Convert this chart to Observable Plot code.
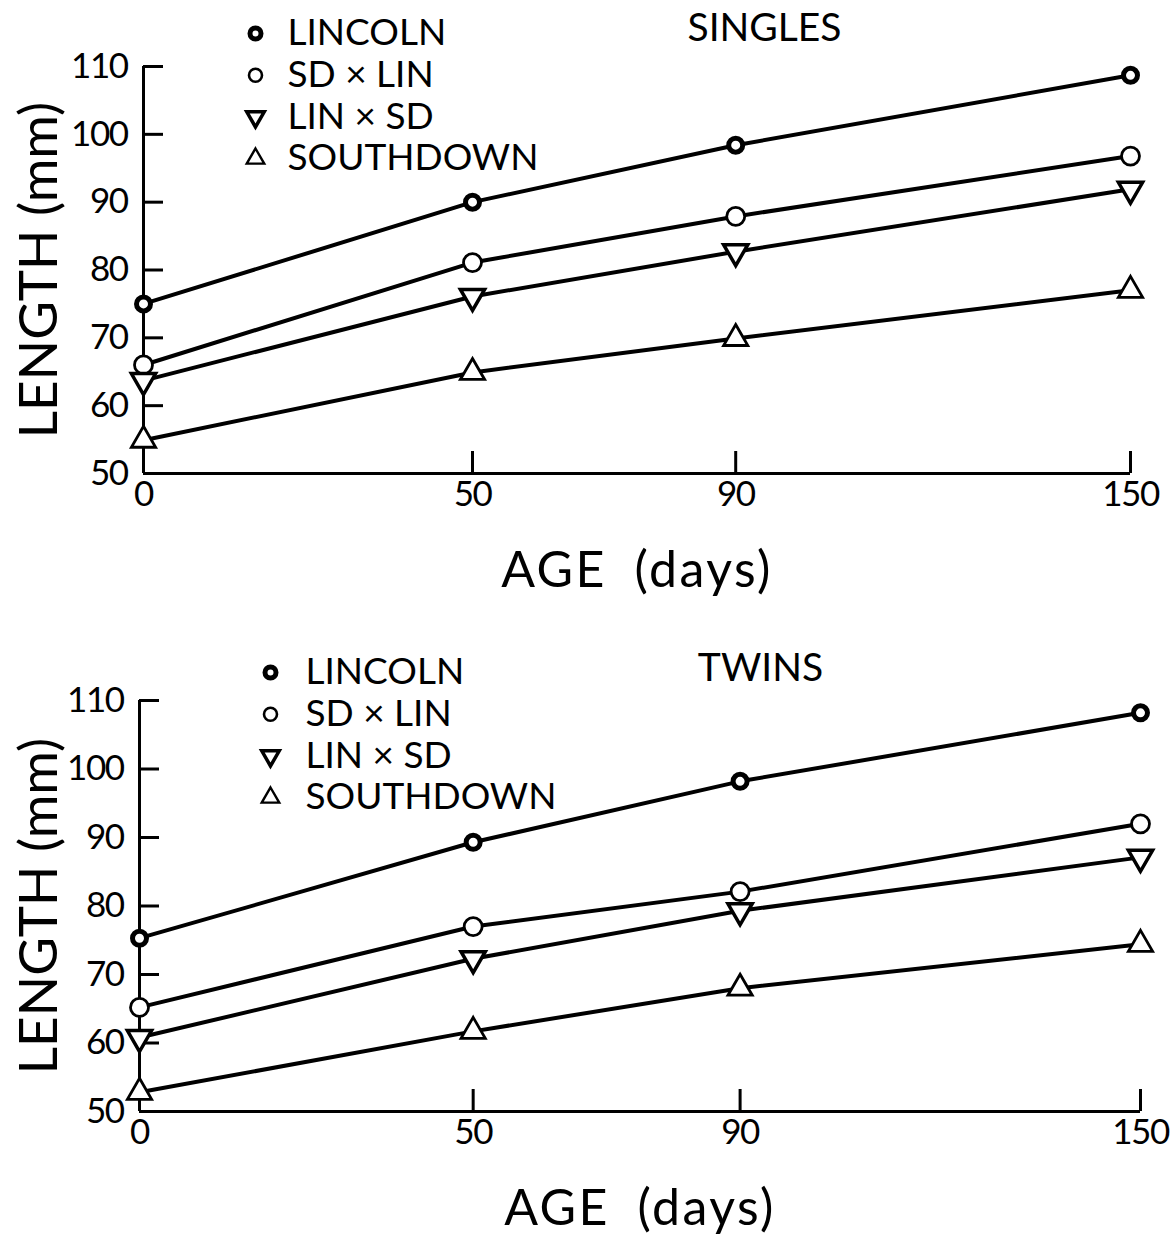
<!DOCTYPE html>
<html><head><meta charset="utf-8">
<script src="https://cdn.jsdelivr.net/npm/d3@7"></script>
<script src="https://cdn.jsdelivr.net/npm/@observablehq/plot@0.6"></script>
<style>
body{margin:0;background:#fff;}
#chart{width:1170px;}
#chart svg{display:block;}
</style></head><body><div id="chart"></div>
<script>
// ---- data ----
const ages = [0, 50, 90, 150];
const breeds = ["LINCOLN", "SD × LIN", "LIN × SD", "SOUTHDOWN"];
const singlesLincoln   = [75.0, 90.0, 98.4, 108.7];
const singlesSdLin     = [66.0, 81.1, 87.9, 96.8];
const singlesLinSd     = [63.7, 76.1, 82.7, 91.9];
const singlesSouthdown = [54.9, 64.9, 69.9, 77.0];
const twinsLincoln     = [75.3, 89.3, 98.2, 108.2];
const twinsSdLin       = [65.2, 77.0, 82.1, 92.0];
const twinsLinSd       = [60.8, 72.3, 79.3, 87.1];
const twinsSouthdown   = [52.8, 61.7, 68.0, 74.4];
const yTickLabels = [50, 60, 70, 80, 90, 100, 110];
const yTickMarks = [60, 70, 80, 90, 100, 110];
const xTickLabels = [0, 50, 90, 150];
const xTickMarks = [50, 90, 150];

// ---- styles ----
const symStyle = {
  "LINCOLN":   {symbol: "circle", r: 7, strokeWidth: 5, rotate: 0, lr: 5.5, lsw: 5},
  "SD × LIN":  {symbol: "circle", r: 9, strokeWidth: 2.8, rotate: 0, lr: 6.5, lsw: 2.6},
  "LIN × SD":  {symbol: "triangle", r: 9, strokeWidth: 3.5, rotate: 180, lr: 6.5, lsw: 3.5},
  "SOUTHDOWN": {symbol: "triangle", r: 9, strokeWidth: 2.8, rotate: 0, lr: 6.5, lsw: 2.4}
};

function rowsFor(series) {
  const out = [];
  breeds.forEach((b, i) => ages.forEach((a, j) => out.push({breed: b, age: a, length: series[i][j]})));
  return out;
}

function panel(o) {
  const rows = rowsFor(o.series);
  const marks = [
    Plot.ruleX([0], {strokeWidth: 3}),
    Plot.ruleY([50], {strokeWidth: 3}),
    Plot.axisY(yTickLabels, {tickSize: 0, tickPadding: 16, fontSize: 35, label: null}),
    Plot.axisY(yTickMarks, {tickSize: -20, tickPadding: 0, strokeWidth: 3, tickFormat: () => "", label: null}),
    Plot.axisX(xTickLabels, {tickSize: 0, tickPadding: 8, fontSize: 35, label: null}),
    Plot.axisX(xTickMarks, {tickSize: -22, tickPadding: 0, strokeWidth: 3, tickFormat: () => "", label: null}),
    Plot.line(rows, {x: "age", y: "length", z: "breed", stroke: "black", strokeWidth: 4}),
    Plot.text(["LENGTH (mm)"], {frameAnchor: "left", rotate: -90, dx: -o.yLabelOffset, fontSize: 53,
      textAnchor: "middle", lineAnchor: "middle"}),
    Plot.text(["AGE\u2002(days)"], {frameAnchor: "bottom", dy: 97, fontSize: 50, textAnchor: "middle", lineAnchor: "middle"}),
    Plot.text([o.title], {frameAnchor: "top-left", dx: o.titleDx, dy: o.titleDy, fontSize: 39,
      textAnchor: "middle", lineAnchor: "middle"})
  ];
  breeds.forEach((b, i) => {
    const s = symStyle[b];
    marks.push(Plot.dot(rows.filter(d => d.breed === b), {
      x: "age", y: "length", symbol: s.symbol, r: s.r, rotate: s.rotate,
      stroke: "black", fill: "white", strokeWidth: s.strokeWidth
    }));
    marks.push(Plot.dot([b], {frameAnchor: "top-left", dx: o.legendDx, dy: o.legendDy + i * o.legendStep,
      symbol: s.symbol, r: s.lr, rotate: s.rotate, stroke: "black", fill: "white", strokeWidth: s.lsw}));
    marks.push(Plot.text([b], {frameAnchor: "top-left", dx: o.legendDx + o.textGap, dy: o.legendDy + i * o.legendStep,
      textAnchor: "start", lineAnchor: "middle", fontSize: 37}));
  });
  const svg = Plot.plot({
    width: 1170, height: o.height,
    marginLeft: o.marginLeft, marginRight: o.marginRight, marginTop: o.marginTop, marginBottom: o.marginBottom,
    x: {domain: [0, 150]},
    y: {domain: [50, 110]},
    style: {fontFamily: "Lato, 'DejaVu Sans', sans-serif", color: "black", background: "white", overflow: "visible"},
    marks
  });
  const sel = d3.select(svg);
  sel.selectAll("text").filter(function() { return this.textContent.startsWith("AGE"); })
    .style("letter-spacing", "2.5px");
  sel.selectAll("text").filter(function() { return /^\d+$/.test(this.textContent); })
    .style("letter-spacing", "-1.5px");
  return svg;
}

const chart = document.getElementById("chart");
chart.append(panel({
  series: [singlesLincoln, singlesSdLin, singlesLinSd, singlesSouthdown], title: "SINGLES",
  height: 620, marginLeft: 143, marginRight: 40, marginTop: 66, marginBottom: 147,
  legendDx: 112, legendDy: -33, legendStep: 41.7, textGap: 32, titleDx: 621, titleDy: -38, yLabelOffset: 103
}));
chart.append(panel({
  series: [twinsLincoln, twinsSdLin, twinsLinSd, twinsSouthdown], title: "TWINS",
  height: 621, marginLeft: 139, marginRight: 30, marginTop: 80, marginBottom: 130,
  legendDx: 131, legendDy: -28, legendStep: 41.7, textGap: 35, titleDx: 621, titleDy: -32, yLabelOffset: 99
}));
</script></body></html>
